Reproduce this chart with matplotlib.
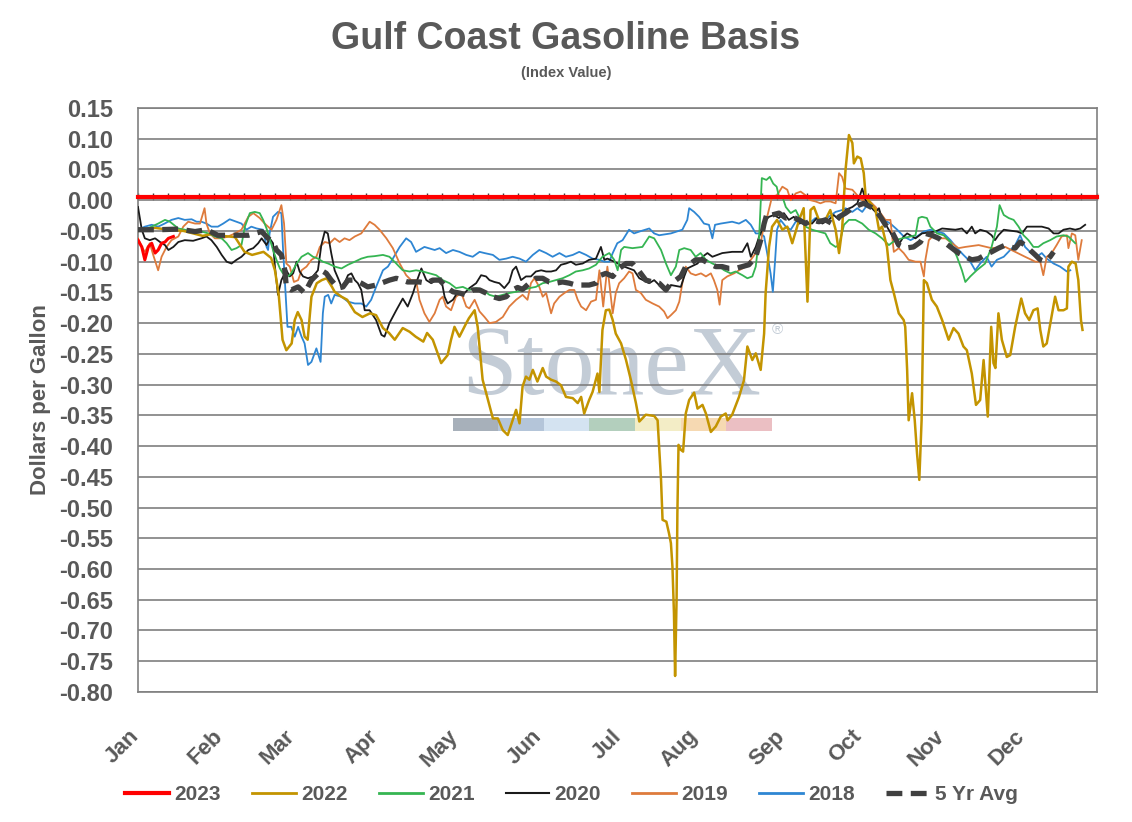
import matplotlib
matplotlib.use('Agg')
import matplotlib.pyplot as plt
import matplotlib.transforms as mtransforms
import numpy as np
from matplotlib.patches import Rectangle

plt.rcParams['font.family'] = ['Liberation Sans', 'DejaVu Sans']
plt.rcParams['font.weight'] = 'bold'
plt.rcParams['axes.unicode_minus'] = False

# x is business-day number within the year
months = ['Jan', 'Feb', 'Mar', 'Apr', 'May', 'Jun', 'Jul', 'Aug', 'Sep', 'Oct', 'Nov', 'Dec']
month_start = [0, 22, 41, 63, 84, 106, 127, 147, 170, 190, 212, 233]
n_days = 252

x_2023 = [0, 1, 1.8, 2.7, 3.6, 4.5, 5.3, 6.2, 7.1, 8, 9.3]
y_2023 = [-0.065, -0.076, -0.097, -0.076, -0.070, -0.086, -0.081, -0.070, -0.068, -0.062, -0.059]

x_2022 = [0, 2, 4.5, 8, 12, 17, 19.5, 22, 25.5, 28, 30, 33, 35, 36, 37, 38, 39, 40.4, 41.2, 42, 43, 43.8, 44.6,
          45.6, 47, 48.3, 49.6, 51, 51.7, 53.5, 55, 57, 59, 61, 62.6, 64.4, 66, 67.5, 69.6, 71.4, 73, 75, 76, 77.5,
          79.7, 81.4, 82.3, 83.2, 84.5, 86.3, 87, 88.5, 89.3, 90.6, 92, 93.3, 94.6, 95.9, 97.2, 98.5, 99.4, 100.3,
          101.1, 102, 102.9, 103.8, 105, 106.4, 107.3, 108.6, 109.9, 111.2, 112.5, 114.3, 115.6, 116.5, 117.3,
          118.6, 119.5, 120.8, 121.3, 122.1, 123, 123.9, 124.8, 125.6, 127, 128.3, 129.6, 130.9, 131.8, 133.5,
          135.7, 136.6, 137, 137.5, 137.9, 138.9, 139.6, 140.1, 140.5, 140.9, 141.2, 141.6, 141.8, 142.1, 142.7,
          143.3, 144, 144.9, 146.2, 147.1, 148.4, 149.3, 150.6, 151.9, 153.2, 154.5, 155, 156.2, 158, 159.3, 160.2,
          161.5, 162.4, 163.7, 164.6, 165, 165.9, 166.7, 168, 169.4, 170.7, 172, 173.8, 175, 176, 176.8, 177.7, 179,
          180.7, 182, 183.4, 184.3, 185.1, 186, 186.9, 187.8, 188.2, 189.1, 190, 190.8, 191.3, 192.6, 193.9, 194.8,
          195.6, 196.9, 197.8, 198.7, 200, 201.3, 201.7, 202.2, 202.6, 203.5, 204.2, 204.8, 205.4, 206, 206.6,
          207.4, 208.7, 210, 211.4, 213.1, 214.4, 215.7, 217, 217.9, 219.2, 220.3, 221.4, 222.3, 223.4, 224.3,
          224.9, 225.4, 226.2, 227.1, 228.4, 229.3, 230.6, 232.2, 233.2, 234.3, 235.4, 236.5, 237.2, 238, 238.9,
          240, 241.1, 242, 243.3, 244.2, 244.6, 245.5, 246.5, 247.2, 247.9, 248.3]
y_2022 = [-0.050, -0.048, -0.045, -0.048, -0.050, -0.058, -0.055, -0.058, -0.060, -0.084, -0.089, -0.084, -0.094,
          -0.114, -0.154, -0.227, -0.244, -0.233, -0.195, -0.182, -0.195, -0.222, -0.227, -0.157, -0.135, -0.130,
          -0.127, -0.141, -0.149, -0.157, -0.162, -0.182, -0.190, -0.184, -0.187, -0.208, -0.216, -0.227, -0.208,
          -0.214, -0.222, -0.230, -0.216, -0.227, -0.265, -0.252, -0.227, -0.206, -0.222, -0.200, -0.192, -0.179,
          -0.206, -0.292, -0.325, -0.355, -0.355, -0.374, -0.382, -0.358, -0.341, -0.363, -0.303, -0.287, -0.292,
          -0.276, -0.295, -0.273, -0.287, -0.292, -0.295, -0.301, -0.320, -0.322, -0.330, -0.320, -0.347, -0.325,
          -0.312, -0.282, -0.312, -0.211, -0.179, -0.178, -0.195, -0.217, -0.233, -0.260, -0.293, -0.330, -0.360,
          -0.349, -0.351, -0.358, -0.401, -0.455, -0.520, -0.523, -0.542, -0.558, -0.596, -0.672, -0.774, -0.645,
          -0.509, -0.398, -0.406, -0.409, -0.347, -0.325, -0.313, -0.339, -0.333, -0.347, -0.377, -0.368, -0.352,
          -0.347, -0.358, -0.349, -0.320, -0.293, -0.238, -0.260, -0.249, -0.276, -0.217, -0.151, -0.076, -0.043,
          -0.032, -0.048, -0.043, -0.070, -0.032, -0.013, -0.165, -0.016, -0.011, -0.032, -0.032, -0.016, -0.048,
          -0.086, -0.048, 0.049, 0.106, 0.093, 0.060, 0.071, 0.068, 0.044, 0.006, -0.005, -0.016, -0.048, -0.043,
          -0.076, -0.130, -0.151, -0.184, -0.195, -0.206, -0.276, -0.358, -0.314, -0.358, -0.412, -0.455, -0.358,
          -0.130, -0.135, -0.162, -0.173, -0.195, -0.227, -0.208, -0.217, -0.238, -0.244, -0.282, -0.333, -0.325,
          -0.260, -0.352, -0.206, -0.265, -0.273, -0.184, -0.227, -0.255, -0.252, -0.206, -0.160, -0.184, -0.195,
          -0.179, -0.176, -0.211, -0.238, -0.233, -0.195, -0.157, -0.179, -0.179, -0.176, -0.108, -0.100, -0.103,
          -0.130, -0.195, -0.211]

x_2021 = [0, 1.8, 3.6, 5.3, 7.1, 8.4, 10.6, 12.3, 14.1, 16.7, 18.5, 20.2, 22, 23.3, 24.6, 25.9, 27.2, 28.1, 29.4,
          30.7, 32, 32.9, 33.8, 34.6, 35.5, 36.4, 37.3, 38.1, 39.4, 40.3, 41.7, 43, 44.7, 46, 47.3, 48.6, 50, 51.7,
          53.5, 55.2, 57, 58.7, 60.4, 62.2, 64.4, 66.1, 67.9, 69.6, 71.4, 73.1, 74.9, 76.6, 78.4, 80.1, 81.9, 83.6,
          85.4, 87.1, 88.9, 90.6, 92.4, 94.1, 95.9, 97.6, 99.4, 101.1, 102.9, 104.6, 106.4, 108.1, 109.9, 111.6,
          113.4, 115.1, 116.9, 118.6, 120.4, 122.1, 123.9, 125.2, 126.1, 127, 127.8, 130, 132.6, 134.4, 135.7,
          137.5, 138.8, 140.1, 141.4, 142.3, 143.6, 145.3, 146.6, 147.9, 149.3, 151, 152.8, 154.1, 155.8, 157.1,
          158.9, 160.2, 161.5, 162.4, 163.3, 164, 165.2, 166.1, 167, 167.9, 168.5, 169.4, 170.3, 171.6, 172.9,
          174.2, 175.5, 177.2, 179, 180.7, 182, 183.4, 184.3, 185.6, 186.9, 188.6, 190.4, 192.1, 193.9, 195.6,
          197.4, 199.1, 200.9, 203.1, 204.4, 205.2, 206.1, 207.4, 208.3, 210.1, 211.8, 213.6, 215.3, 216.6, 217.5,
          218.8, 220.5, 222.7, 224.4, 225.8, 226.5, 227.6, 228.9, 230.2, 231.5, 232.8, 234.1, 235.4, 236.7, 238,
          239.8, 241.5, 243.3, 244.6, 246.4]
y_2021 = [-0.048, -0.048, -0.043, -0.038, -0.032, -0.035, -0.046, -0.048, -0.051, -0.051, -0.054, -0.059, -0.062,
          -0.070, -0.081, -0.078, -0.073, -0.043, -0.021, -0.019, -0.021, -0.032, -0.046, -0.062, -0.081, -0.097,
          -0.111, -0.119, -0.124, -0.119, -0.103, -0.092, -0.086, -0.092, -0.095, -0.100, -0.103, -0.108, -0.111,
          -0.105, -0.100, -0.095, -0.092, -0.091, -0.089, -0.092, -0.103, -0.114, -0.116, -0.114, -0.116, -0.119,
          -0.122, -0.130, -0.135, -0.143, -0.141, -0.146, -0.143, -0.146, -0.154, -0.157, -0.154, -0.151, -0.149,
          -0.146, -0.143, -0.141, -0.135, -0.133, -0.130, -0.127, -0.122, -0.116, -0.114, -0.111, -0.105, -0.092,
          -0.086, -0.097, -0.114, -0.081, -0.076, -0.078, -0.076, -0.059, -0.062, -0.081, -0.103, -0.122, -0.108,
          -0.081, -0.078, -0.081, -0.092, -0.086, -0.097, -0.103, -0.108, -0.114, -0.119, -0.116, -0.122, -0.127,
          -0.124, -0.108, -0.059, 0.036, 0.033, 0.038, 0.027, 0.022, 0.006, 0.006, -0.011, -0.021, -0.016, -0.032,
          -0.043, -0.048, -0.051, -0.054, -0.070, -0.076, -0.073, -0.040, -0.032, -0.032, -0.038, -0.048, -0.054,
          -0.062, -0.073, -0.065, -0.062, -0.059, -0.057, -0.029, -0.027, -0.029, -0.043, -0.054, -0.057, -0.068,
          -0.092, -0.114, -0.133, -0.124, -0.114, -0.103, -0.076, -0.043, -0.008, -0.024, -0.029, -0.032, -0.043,
          -0.057, -0.065, -0.076, -0.076, -0.070, -0.065, -0.059, -0.057, -0.059, -0.070]

x_2020 = [0, 1, 1.8, 3.1, 4.5, 5.8, 7.1, 8, 9.3, 10.6, 12.3, 14.5, 16.7, 18, 19.3, 20.7, 22, 23.3, 24.6, 25.9,
          27.2, 29, 30.3, 31.6, 32.5, 33.8, 34.6, 35.5, 36, 36.8, 37.7, 39, 39.9, 40.8, 41.7, 42.5, 43.4, 44.7, 46,
          47.3, 48.2, 49.1, 49.9, 50.8, 51.7, 52.6, 53.5, 54.3, 55.2, 56.1, 57, 57.8, 58.7, 59.6, 60.9, 62.6, 64,
          64.8, 66.1, 67.9, 69.6, 70.9, 72.3, 73.1, 74.5, 75.8, 77.1, 78.4, 79.7, 80.6, 81.4, 82.8, 84.1, 85.4,
          87.1, 88.9, 90.2, 91.5, 92.4, 93.7, 95, 96.3, 97.6, 98.5, 99.4, 100.7, 102, 103.3, 104.6, 106, 107.3,
          108.6, 109.9, 111.2, 112.5, 113.8, 115.1, 116.9, 118.6, 120.4, 121.7, 122.6, 123.4, 125.2, 127.8, 130.4,
          131.8, 134.4, 135.7, 138.3, 140.1, 142.7, 143.6, 144.4, 147.1, 148.4, 149.7, 151, 153.6, 156.2, 158.9,
          160.2, 161.1, 162.4, 163.3, 164.1, 165, 165.9, 167.2, 168.5, 169.8, 171.1, 172.4, 173.8, 175.5, 177.2,
          178.5, 179.9, 181.6, 182.9, 184.3, 186, 187.8, 189.1, 190.4, 191.3, 192.6, 193.9, 194.8, 195.6, 196.9,
          198.2, 199.6, 200.4, 201.3, 202.2, 204.4, 206.1, 209.6, 211.4, 214.9, 216.6, 217.9, 219.2, 220.1, 221.4,
          223.1, 224.4, 225.3, 226.2, 227.6, 231.1, 232.4, 233.7, 237.6, 239.4, 240.7, 242, 243.3, 245, 246.4,
          247.7, 249]
y_2020 = [-0.011, -0.048, -0.062, -0.065, -0.062, -0.068, -0.073, -0.081, -0.076, -0.068, -0.065, -0.066, -0.062,
          -0.059, -0.065, -0.076, -0.089, -0.100, -0.103, -0.097, -0.092, -0.081, -0.078, -0.070, -0.062, -0.073,
          -0.062, -0.070, -0.108, -0.154, -0.130, -0.114, -0.124, -0.119, -0.100, -0.116, -0.124, -0.127, -0.124,
          -0.114, -0.073, -0.051, -0.054, -0.086, -0.114, -0.127, -0.141, -0.135, -0.122, -0.119, -0.130, -0.135,
          -0.146, -0.179, -0.179, -0.195, -0.219, -0.222, -0.200, -0.179, -0.160, -0.173, -0.151, -0.135, -0.111,
          -0.130, -0.135, -0.130, -0.127, -0.157, -0.168, -0.162, -0.149, -0.154, -0.143, -0.135, -0.122, -0.124,
          -0.130, -0.133, -0.135, -0.143, -0.133, -0.114, -0.108, -0.130, -0.124, -0.124, -0.116, -0.114, -0.116,
          -0.116, -0.114, -0.105, -0.103, -0.100, -0.105, -0.103, -0.097, -0.095, -0.076, -0.097, -0.095, -0.100,
          -0.108, -0.114, -0.127, -0.135, -0.130, -0.146, -0.138, -0.141, -0.124, -0.111, -0.103, -0.092, -0.086,
          -0.092, -0.086, -0.084, -0.084, -0.070, -0.092, -0.076, -0.059, -0.048, -0.032, -0.027, -0.024, -0.029,
          -0.021, -0.032, -0.027, -0.038, -0.035, -0.038, -0.029, -0.038, -0.032, -0.024, -0.032, -0.016, -0.011,
          -0.005, 0.019, 0.000, -0.011, -0.019, -0.013, -0.032, -0.043, -0.057, -0.073, -0.068, -0.059, -0.054,
          -0.062, -0.054, -0.051, -0.046, -0.048, -0.046, -0.054, -0.043, -0.054, -0.048, -0.051, -0.057, -0.065,
          -0.057, -0.048, -0.051, -0.054, -0.043, -0.043, -0.046, -0.054, -0.054, -0.048, -0.046, -0.048, -0.046,
          -0.040]

x_2019 = [0, 1, 1.8, 3.1, 4, 5.3, 6.2, 7.5, 8.8, 10.6, 11.9, 13.2, 15, 16.3, 17.5, 18, 18.9, 20.2, 22, 23.7,
          25.5, 27.2, 29, 30.3, 32, 33.3, 35.1, 36.4, 37.7, 38.4, 39, 39.9, 41, 42.1, 43, 44.3, 45.6, 46.9, 47.8,
          49.1, 50.4, 51.7, 53, 54.3, 55.6, 57, 58.7, 60.9, 62.2, 63.5, 65.3, 67, 68.8, 70.5, 71.8, 73.1, 74, 75.3,
          76.6, 78, 79.3, 80.1, 81, 82.3, 83.6, 85, 86.3, 87.1, 88.5, 89.8, 91.1, 92.4, 94.1, 95.9, 97.6, 99.4,
          101.1, 102.4, 103.3, 104.2, 105.5, 106.4, 107.3, 108.6, 109.4, 110.8, 112.1, 113.4, 114.7, 115.6, 116.5,
          117.8, 119.1, 120.4, 121.3, 122.3, 123.4, 124.8, 125.6, 126.5, 127.8, 129.1, 130, 130.9, 132.2, 133.5,
          135.3, 137, 138.3, 139.2, 140.1, 141.4, 142.3, 143.1, 144, 145.3, 146.6, 148, 149.3, 150.6, 151.4, 152.3,
          152.9, 153.6, 154.9, 156.7, 158, 159.8, 161.1, 162.4, 163.7, 164.6, 165.4, 166.7, 168, 169.4, 170.7,
          171.6, 172.9, 174.2, 175.5, 176.8, 178.1, 179.4, 180.7, 182, 183.4, 184.3, 185.1, 186, 187.8, 189.1,
          190.4, 192.1, 193.9, 195.2, 196.5, 197.8, 198.7, 200, 201.3, 202.6, 204.4, 205.7, 206.6, 207, 207.9,
          209.2, 210.5, 212.3, 214, 215.7, 217.5, 221, 224.4, 228, 230.6, 233.2, 235.9, 237.2, 238, 238.9, 240.2,
          241.5, 242.8, 244.2, 244.6, 245.5, 246.4, 247.2, 248.1]
y_2019 = [-0.062, -0.076, -0.084, -0.070, -0.089, -0.114, -0.092, -0.076, -0.065, -0.059, -0.043, -0.035, -0.038,
          -0.038, -0.013, -0.038, -0.054, -0.062, -0.062, -0.059, -0.054, -0.048, -0.027, -0.021, -0.029, -0.038,
          -0.048, -0.032, -0.008, -0.038, -0.103, -0.108, -0.133, -0.130, -0.114, -0.108, -0.097, -0.092, -0.076,
          -0.068, -0.070, -0.062, -0.068, -0.062, -0.065, -0.059, -0.054, -0.035, -0.040, -0.048, -0.062, -0.078,
          -0.103, -0.122, -0.130, -0.130, -0.162, -0.184, -0.198, -0.184, -0.162, -0.157, -0.173, -0.179, -0.157,
          -0.151, -0.173, -0.176, -0.162, -0.181, -0.190, -0.200, -0.198, -0.190, -0.173, -0.162, -0.154, -0.162,
          -0.135, -0.127, -0.141, -0.157, -0.151, -0.184, -0.168, -0.157, -0.151, -0.146, -0.146, -0.162, -0.173,
          -0.179, -0.165, -0.162, -0.114, -0.173, -0.108, -0.184, -0.151, -0.135, -0.127, -0.116, -0.119, -0.146,
          -0.151, -0.162, -0.168, -0.173, -0.181, -0.192, -0.187, -0.179, -0.165, -0.135, -0.108, -0.119, -0.122,
          -0.119, -0.124, -0.119, -0.130, -0.146, -0.170, -0.130, -0.124, -0.119, -0.114, -0.108, -0.097, -0.086,
          -0.070, -0.038, -0.027, 0.006, 0.008, 0.022, 0.017, 0.000, 0.011, 0.014, 0.008, 0.000, -0.002, -0.005,
          -0.002, -0.002, -0.005, 0.044, 0.038, 0.019, 0.017, 0.008, 0.000, 0.000, -0.011, -0.021, -0.032, -0.032,
          -0.084, -0.078, -0.086, -0.097, -0.100, -0.100, -0.124, -0.097, -0.065, -0.057, -0.062, -0.062, -0.070,
          -0.078, -0.076, -0.073, -0.078, -0.076, -0.084, -0.092, -0.100, -0.100, -0.122, -0.092, -0.086, -0.073,
          -0.059, -0.057, -0.078, -0.054, -0.057, -0.097, -0.065]

x_2018 = [0, 1.8, 3.6, 5.3, 7, 8.8, 10.6, 12.3, 14.1, 15.4, 16.7, 18, 19.3, 21, 22.4, 24.1, 25.9, 27.2, 28.5,
          29.8, 31.2, 32.9, 33.8, 34.2, 34.6, 35.5, 36.8, 37.7, 38.1, 38.8, 39.3, 40.3, 41.2, 42.1, 43, 43.8, 44.7,
          45.6, 46.9, 48, 48.6, 49.1, 50, 50.8, 51.7, 53.5, 55.2, 57, 58.7, 60, 61.3, 62.6, 64.4, 65.7, 67, 68.8,
          70.5, 71.8, 73.1, 75.3, 78, 79.3, 81, 82.8, 84.5, 86.3, 88, 89.8, 91.1, 93.3, 95, 96.8, 98.5, 100.3, 102,
          103.8, 105.5, 107.3, 109, 110.8, 112.5, 114.3, 116, 117.8, 119.5, 121.3, 122.6, 123.9, 124.8, 126, 127.4,
          129.1, 130.4, 131.8, 134.4, 135.7, 137, 140.1, 143.1, 144.4, 144.9, 146.2, 147.5, 148.8, 150.1, 151,
          151.7, 153.2, 156.2, 158, 159.8, 161.1, 162.4, 163.7, 164.6, 165.4, 166.3, 166.9, 167.5, 168, 168.9,
          170.3, 171.6, 172.9, 174.6, 176.4, 178.1, 179.9, 181.6, 183.4, 185.1, 186, 187.8, 189.1, 190.4, 191.7,
          193, 194.3, 196.1, 197.8, 199.6, 201.3, 203.1, 204.8, 206.6, 208.3, 210, 211.8, 213.6, 215.3, 217,
          218.8, 220.1, 221.4, 223.1, 224.4, 225.8, 227.6, 229.3, 230.6, 231.9, 233.2, 234.5, 236.3, 237.6, 238.9,
          240.7, 242.4, 244.2, 245.1]
y_2018 = [-0.048, -0.043, -0.040, -0.043, -0.038, -0.032, -0.029, -0.032, -0.031, -0.035, -0.035, -0.038, -0.043,
          -0.043, -0.038, -0.031, -0.035, -0.038, -0.048, -0.043, -0.046, -0.048, -0.076, -0.081, -0.054, -0.027,
          -0.019, -0.021, -0.076, -0.151, -0.206, -0.206, -0.222, -0.206, -0.222, -0.233, -0.268, -0.263, -0.241,
          -0.263, -0.184, -0.157, -0.154, -0.168, -0.154, -0.157, -0.165, -0.168, -0.168, -0.173, -0.162, -0.141,
          -0.114, -0.108, -0.095, -0.076, -0.062, -0.068, -0.084, -0.076, -0.081, -0.078, -0.086, -0.081, -0.084,
          -0.089, -0.092, -0.084, -0.086, -0.089, -0.097, -0.095, -0.092, -0.095, -0.100, -0.089, -0.081, -0.086,
          -0.092, -0.086, -0.092, -0.089, -0.084, -0.089, -0.095, -0.097, -0.100, -0.100, -0.086, -0.070, -0.065,
          -0.048, -0.054, -0.051, -0.046, -0.054, -0.057, -0.054, -0.048, -0.032, -0.013, -0.019, -0.027, -0.038,
          -0.040, -0.062, -0.040, -0.038, -0.035, -0.038, -0.032, -0.040, -0.054, -0.054, -0.059, -0.086, -0.119,
          -0.149, -0.097, -0.048, -0.032, -0.043, -0.048, -0.035, -0.032, -0.038, -0.029, -0.032, -0.027, -0.019,
          -0.016, -0.013, -0.019, -0.013, -0.019, -0.008, -0.013, -0.021, -0.032, -0.038, -0.048, -0.059, -0.065,
          -0.059, -0.051, -0.048, -0.051, -0.054, -0.065, -0.078, -0.089, -0.100, -0.114, -0.103, -0.092, -0.108,
          -0.097, -0.092, -0.081, -0.073, -0.057, -0.076, -0.084, -0.092, -0.086, -0.095, -0.103, -0.108, -0.116,
          -0.114]

x_avg = [0, 5.3, 10.6, 15, 18, 21, 25.5, 29, 32.5, 34.2, 35.5, 36.4, 37.7, 38.6, 39, 40.3, 42.1, 43.8, 45.6,
         48.2, 49.5, 50.8, 52.6, 53.9, 55.2, 57, 58.7, 60.4, 62.6, 66.1, 67.9, 70.9, 74, 75.8, 77.5, 79.3, 81,
         82.8, 84.5, 86.3, 88, 89.8, 91.5, 93.3, 95, 96.8, 98.5, 99.8, 101.1, 102.9, 104.6, 106.4, 108.1, 109.9,
         111.6, 113.4, 115.1, 118.6, 120.4, 121.7, 123, 124.8, 126.5, 128.3, 130, 131.8, 133.5, 135.3, 137, 138.8,
         140.1, 141.4, 142.7, 144, 145.3, 146.6, 148.4, 150.1, 151.9, 153.6, 155.4, 157.1, 158.9, 160.6, 162.4,
         163.7, 164.6, 165.4, 166.7, 168.5, 170.3, 172, 173.8, 175.5, 177.2, 179, 180.7, 182.5, 184.3, 186, 187.8,
         189.5, 190.8, 192.6, 193.9, 195.2, 196.5, 198.2, 200, 201.7, 203.9, 205.7, 207, 208.7, 210.5, 212.3, 214,
         215.7, 217.5, 219.2, 221, 222.7, 224.4, 226.2, 228, 229.3, 230.6, 231.9, 233.2, 234.5, 235.9, 237.2,
         238.5, 239.8, 240.7]
y_avg = [-0.048, -0.048, -0.047, -0.051, -0.048, -0.057, -0.057, -0.057, -0.051, -0.062, -0.068, -0.081, -0.089,
         -0.114, -0.141, -0.146, -0.141, -0.151, -0.130, -0.114, -0.119, -0.130, -0.143, -0.141, -0.130, -0.130,
         -0.135, -0.141, -0.138, -0.130, -0.127, -0.133, -0.133, -0.135, -0.130, -0.130, -0.141, -0.149, -0.151,
         -0.154, -0.146, -0.146, -0.151, -0.157, -0.160, -0.157, -0.146, -0.142, -0.145, -0.135, -0.127, -0.127,
         -0.133, -0.135, -0.133, -0.135, -0.138, -0.138, -0.135, -0.122, -0.119, -0.124, -0.111, -0.103, -0.103,
         -0.116, -0.130, -0.133, -0.135, -0.146, -0.135, -0.130, -0.124, -0.108, -0.103, -0.097, -0.097, -0.103,
         -0.108, -0.108, -0.111, -0.111, -0.108, -0.105, -0.092, -0.065, -0.038, -0.021, -0.024, -0.021, -0.029,
         -0.027, -0.032, -0.038, -0.032, -0.035, -0.032, -0.038, -0.027, -0.021, -0.013, -0.008, -0.005, -0.011,
         -0.016, -0.027, -0.040, -0.051, -0.073, -0.078, -0.076, -0.068, -0.054, -0.057, -0.062, -0.070, -0.078,
         -0.086, -0.092, -0.097, -0.095, -0.089, -0.084, -0.078, -0.073, -0.076, -0.078, -0.068, -0.073, -0.081,
         -0.089, -0.097, -0.100, -0.092, -0.084]

text_color = '#595959'

fig = plt.figure(figsize=(11.32, 8.22), dpi=100)
ax = fig.add_axes([0.1219, 0.1582, 0.8468, 0.7104])

ax.plot(x_2018, y_2018, color='#2E86D3', lw=1.3, zorder=3)
ax.plot(x_2019, y_2019, color='#DE7B3C', lw=1.3, zorder=3)
ax.plot(x_2020, y_2020, color='#1A1A1A', lw=1.3, zorder=3)
ax.plot(x_2021, y_2021, color='#35B552', lw=1.3, zorder=3)
ax.plot(x_2022, y_2022, color='#C39400', lw=1.8, zorder=4)
ax.plot(x_avg, y_avg, color='#404040', lw=3.8, ls=(0, (3, 1.6)), zorder=5)
ax.plot(x_2023, y_2023, color='#FF0000', lw=2.2, zorder=6)

ax.axhline(0.005, color='#FF0000', lw=3, zorder=7, clip_on=False)

ax.set_xlim(0, n_days)
ax.set_ylim(-0.80, 0.15)
ax.set_yticks(np.arange(-0.80, 0.151, 0.05))
ax.yaxis.set_major_formatter(matplotlib.ticker.FormatStrFormatter('%.2f'))
ax.tick_params(axis='y', length=0, pad=18, labelsize=17, labelcolor=text_color)
ax.grid(axis='y', color='#7F7F7F', lw=1.2)
ax.set_axisbelow(True)

ax.set_xticks(month_start)
ax.set_xticklabels(months, rotation=45, ha='right', rotation_mode='anchor')
ax.tick_params(axis='x', length=0, pad=10, labelsize=16, labelcolor=text_color)
shift = mtransforms.ScaledTranslation(-10 / 100, -20 / 100, fig.dpi_scale_trans)
for lab in ax.get_xticklabels():
    lab.set_transform(lab.get_transform() + shift)

for s in ax.spines.values():
    s.set_color('#808080')
    s.set_linewidth(1.2)

# tick marks sitting on the zero line
zero_ax = ax.secondary_xaxis(0.8 / 0.95)
zero_ax.set_xticks(np.arange(0, n_days + 1, 4))
zero_ax.tick_params(axis='x', direction='out', length=5, width=1, color='#404040', labelbottom=False,
                    labeltop=False)
zero_ax.spines['top'].set_visible(False)
zero_ax.spines['bottom'].set_color('#404040')
zero_ax.spines['bottom'].set_linewidth(1.2)

ax.set_ylabel('Dollars per Gallon', fontsize=16, weight='bold', color=text_color, labelpad=6)

fig.text(0.5, 0.953, 'Gulf Coast Gasoline Basis', ha='center', va='center', fontsize=27,
         color=text_color)
fig.text(0.5, 0.911, '(Index Value)', ha='center', va='center', fontsize=10.5, color=text_color)

# watermark
ax.text(0.494, 0.551, 'StoneX', transform=ax.transAxes, ha='center', va='center', fontsize=72,
        family='Liberation Serif', weight='normal', color='#C3CCD6', zorder=0.2)
ax.text(0.667, 0.62, '®', transform=ax.transAxes, ha='center', va='center', fontsize=11,
        weight='normal', color='#C3CCD6', zorder=0.2)
bar_colors = ['#A7B0BA', '#B4C5D9', '#D4E3F1', '#B3CFBD', '#F3EDC6', '#F6D9B2', '#EBBFC3']
for i, c in enumerate(bar_colors):
    ax.add_patch(Rectangle((0.3285 + i * 0.0475, 0.447), 0.0475, 0.022, transform=ax.transAxes,
                           facecolor=c, edgecolor='none', zorder=0.2))

handles = [
    plt.Line2D([], [], color='#FF0000', lw=3),
    plt.Line2D([], [], color='#C39400', lw=2),
    plt.Line2D([], [], color='#35B552', lw=2),
    plt.Line2D([], [], color='#1A1A1A', lw=1.5),
    plt.Line2D([], [], color='#DE7B3C', lw=2),
    plt.Line2D([], [], color='#2E86D3', lw=2),
    plt.Line2D([], [], color='#404040', lw=3.8, ls=(0, (3, 1.6))),
]
labels = ['2023', '2022', '2021', '2020', '2019', '2018', '5 Yr Avg']
leg = fig.legend(handles, labels, loc='center', bbox_to_anchor=(0.505, 0.033), ncol=7, frameon=False,
                 fontsize=15, handlelength=2.1, handletextpad=0.25, columnspacing=1.5)
for t in leg.get_texts():
    t.set_color(text_color)

fig.savefig('out.png', dpi=100)
